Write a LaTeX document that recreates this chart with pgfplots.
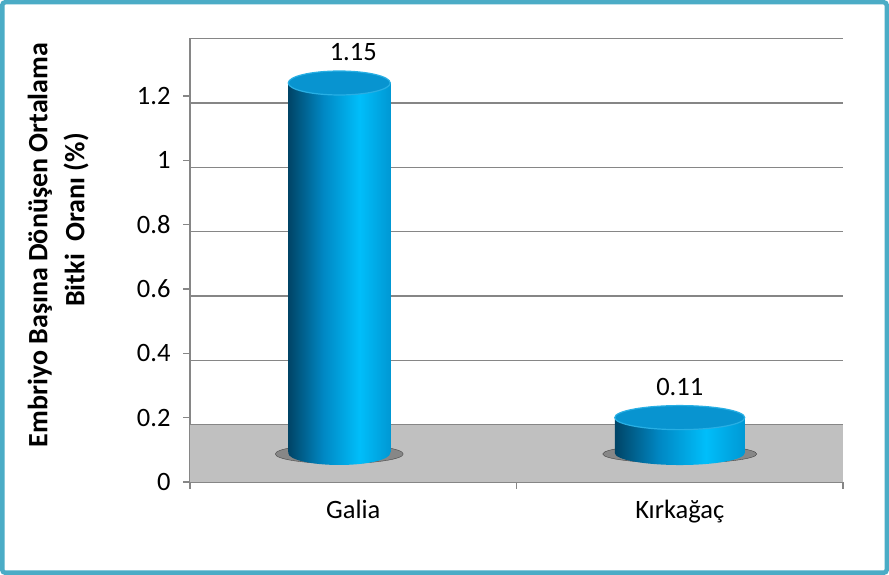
\documentclass[border=0pt]{standalone}
\usepackage{pgfplots}
\pgfplotsset{compat=1.18}
\usepackage{fontspec}
\setmainfont{Carlito}
\definecolor{framec}{RGB}{75,172,198}
\definecolor{gridc}{RGB}{134,134,134}
\definecolor{floorc}{RGB}{192,192,192}
\definecolor{bdark}{RGB}{0,68,102}
\definecolor{bm1}{RGB}{0,135,195}
\definecolor{bmid}{RGB}{0,190,250}
\definecolor{bright}{RGB}{0,152,212}
\definecolor{btop}{RGB}{8,148,208}
\definecolor{brim}{RGB}{40,175,228}
\pgfdeclarehorizontalshading{cyl}{100bp}{color(0bp)=(bdark); color(25bp)=(bdark); color(42bp)=(bm1); color(60bp)=(bmid); color(75bp)=(bright); color(100bp)=(bright)}
\pgfdeclareplotmark{cylbot}{%
  \pgfpathmoveto{\pgfqpoint{-\pgfplotmarksize}{0pt}}%
  \pgfpatharc{180}{360}{\pgfplotmarksize}%
  \pgfpathclose
  \pgfshadepath{cyl}{0}%
  \pgfusepath{discard}%
}
\newcommand{\chartfont}{\fontsize{26.5}{31}\selectfont}
\begin{document}
\begin{tikzpicture}[x=1pt,y=1pt]
\fill[white] (0,0) rectangle (889,575);
\draw[framec, line width=4.5pt, rounded corners=3pt] (2.25,2.25) rectangle (886.75,572.75);
\node[rotate=90, font=\fontsize{28}{33}\selectfont\bfseries] at (40,330) {Embriyo Başına Dönüşen Ortalama};
\node[rotate=90, font=\fontsize{28}{33}\selectfont\bfseries] at (76,355) {Bitki\ \ Oranı (\%)};
\begin{axis}[
  at={(190pt,93pt)}, anchor=south west,
  scale only axis, width=653pt, height=444pt,
  xmin=-0.5, xmax=1.5, ymin=0, ymax=1.38,
  clip=false, clip marker paths=true,
  axis x line*=bottom, axis y line*=left,
  axis line style={gridc, line width=1.3pt, -},
  tick align=outside, major tick length=7pt,
  tick style={gridc, line width=1.3pt},
  ytick={0,0.2,0.4,0.6,0.8,1,1.2},
  yticklabels={0,0.2,0.4,0.6,0.8,1,1.2},
  xtick={-0.5,0.5,1.5}, x tick label as interval,
  xticklabels={Galia,Kırkağaç},
  extra y ticks={0.178,0.378,0.578,0.778,0.978,1.178,1.378},
  extra y tick labels={},
  extra y tick style={grid=major, major tick length=0pt},
  grid style={gridc, line width=1.3pt},
  ticklabel style={font=\chartfont},
  yticklabel style={xshift=-9pt},
  xticklabel style={yshift=-8pt},
  /pgf/number format/assume math mode=true,
]
% floor (decorative)
\fill[floorc] (axis cs:-0.5,0) rectangle (axis cs:1.5,0.178);
\draw[gridc, line width=1.3pt] (axis cs:-0.5,0.178) -- (axis cs:1.5,0.178);
% Galia
\addplot[only marks, mark=*, mark size=64pt, mark options={xshift=-14pt, yshift=28pt, yscale=0.15, fill=black!65, draw=none, opacity=0.55}] coordinates {(0,0)};
\addplot[only marks, mark=cylbot, mark size=51pt, mark options={xshift=-14pt, yshift=29pt, yscale=0.235}] coordinates {(0,0)};
\addplot[ybar, bar width=102pt, bar shift=-14pt, draw=none, shading=cyl, yshift=29pt] coordinates {(0,1.15)};
\addplot[only marks, mark=*, mark size=51pt, mark options={xshift=-14pt, yshift=29pt, yscale=0.235, fill=btop, draw=brim, line width=1.2pt}] coordinates {(0,1.15)};
% Kirkagac
\addplot[only marks, mark=*, mark size=77pt, mark options={yshift=28pt, yscale=0.12, fill=black!65, draw=none, opacity=0.55}] coordinates {(1,0)};
\addplot[only marks, mark=cylbot, mark size=65pt, mark options={yshift=29pt, yscale=0.185}] coordinates {(1,0)};
\addplot[ybar, bar width=130pt, bar shift=0pt, draw=none, shading=cyl, yshift=29pt] coordinates {(1,0.11)};
\addplot[only marks, mark=*, mark size=65pt, mark options={yshift=29pt, yscale=0.185, fill=btop, draw=brim, line width=1.2pt}] coordinates {(1,0.11)};
% value labels
\addplot[draw=none, mark=none, nodes near coords, point meta=explicit symbolic,
  every node near coord/.append style={anchor=center, yshift=60pt, font=\chartfont, text=black}]
  coordinates {(0,1.15) [1.15] (1,0.11) [0.11]};
\end{axis}
\end{tikzpicture}
\end{document}
